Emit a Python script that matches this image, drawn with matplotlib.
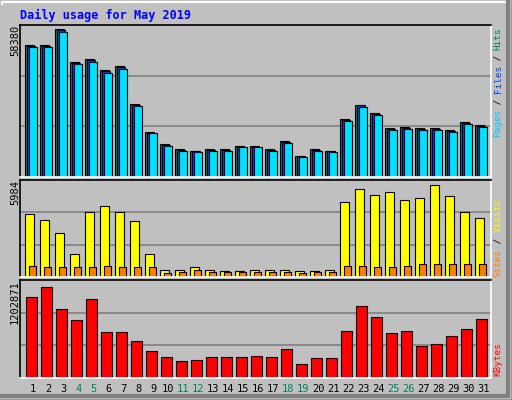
import matplotlib
matplotlib.use("Agg")
import matplotlib.pyplot as plt
from matplotlib.patches import Rectangle
from matplotlib.lines import Line2D

days = list(range(1, 32))
day_labels = [str(d) for d in days]
weekend = [4, 5, 11, 12, 18, 19, 25, 26]

hits = [52180, 52180, 58380, 45460, 46530, 42180, 43760, 28740, 17790, 12930,
        10950, 10280, 10950, 10950, 12250, 12250, 10950, 14230, 8300, 10950,
        10280, 22930, 28460, 25300, 19370, 19770, 19370, 19370, 18580, 21740, 20560]
files = [51900, 51900, 58100, 45200, 46250, 41900, 43500, 28500, 17500, 12700,
         10750, 10100, 10750, 10750, 12050, 12050, 10750, 14000, 8150, 10750,
         10100, 22700, 28460, 25050, 19150, 19550, 19150, 19150, 18350, 21500, 20350]
pages = [51260, 51260, 57500, 44500, 45600, 41300, 42800, 28000, 17260, 12400,
         10450, 9800, 10450, 10450, 11700, 11700, 10450, 13600, 7850, 10450,
         9800, 22200, 27670, 24500, 18700, 19100, 18700, 18700, 17950, 21100, 19900]
visits = [4100, 3710, 2860, 1500, 4230, 4620, 4230, 3640, 1500, 455,
          455, 650, 455, 390, 390, 455, 455, 455, 390, 390,
          455, 4880, 5720, 5330, 5530, 5010, 5140, 5984, 5270, 4230, 3840]
sites = [715, 650, 650, 650, 650, 715, 650, 650, 650, 260,
         325, 455, 325, 325, 325, 325, 325, 325, 260, 325,
         325, 715, 715, 650, 650, 715, 845, 845, 845, 845, 845]
kbytes = [1070700, 1202871, 912000, 766600, 1044200, 608000, 608000, 489100, 356900, 277600,
          224700, 237900, 277600, 277600, 277600, 290800, 277600, 383300, 185100, 264400,
          264400, 621200, 951700, 806300, 594800, 621200, 423000, 449400, 555200, 647700, 779900]

W, H = 512, 400
fig = plt.figure(figsize=(W / 100, H / 100), dpi=100, facecolor="#C0C0C0")
MONO = "DejaVu Sans Mono"

def px_axes(x0, y0, x1, y1):
    return fig.add_axes([x0 / W, 1 - y1 / H, (x1 - x0) / W, (y1 - y0) / H])

# outer 3D frame
fig.add_artist(Line2D([2 / W, 2 / W, (W - 4) / W], [(H - 4) / H, 1 - 2 / H, 1 - 2 / H],
                      transform=fig.transFigure, color="white", lw=1.5))
fig.add_artist(Line2D([(W - 4) / W, (W - 4) / W, 2 / W], [1 - 2 / H, 4 / H, 4 / H],
                      transform=fig.transFigure, color="#808080", lw=3))
fig.add_artist(Line2D([0, 1, 1], [0.5 / H, 0.5 / H, 1], transform=fig.transFigure,
                      color="black", lw=1))

XL, XR = 20, 491
xmin, xmax = 1 - 13.3 / 15, 1 + (XR - 33.3) / 15

def style(ax, ytop):
    ax.set_facecolor("#C0C0C0")
    ax.set_xlim(xmin, xmax)
    ax.set_ylim(0, ytop)
    ax.set_yticks([ytop / 3, 2 * ytop / 3])
    ax.yaxis.grid(True, color="#808080", lw=1.2)
    ax.set_axisbelow(True)
    ax.tick_params(left=False, bottom=False, labelleft=False, labelbottom=False)
    for s in ax.spines.values():
        s.set_color("black")
        s.set_linewidth(1.2)
    ax.spines["right"].set_color("white")
    ax.spines["bottom"].set_color("white")

ax1 = px_axes(XL, 25, XR, 177)
style(ax1, 152 * 58380 / 147.7)
ax1.bar([d - 0.55 for d in days], hits, width=0.58, align="edge", color="#00805C", edgecolor="black", lw=0.8)
ax1.bar([d - 0.42 for d in days], files, width=0.55, align="edge", color="#0040FF", edgecolor="black", lw=0.8)
ax1.bar([d - 0.29 for d in days], pages, width=0.52, align="edge", color="#00E0FF", edgecolor="black", lw=0.8)

ax2 = px_axes(XL, 180, XR, 277)
style(ax2, 97 * 5984 / 92)
ax2.bar([d - 0.53 for d in days], visits, width=0.56, align="edge", color="#FFFF00", edgecolor="black", lw=0.8)
ax2.bar([d - 0.27 for d in days], sites, width=0.47, align="edge", color="#FF8000", edgecolor="black", lw=0.8)

ax3 = px_axes(XL, 280, XR, 378)
style(ax3, 98 * 1202871 / 91)
ax3.bar([d - 0.47 for d in days], kbytes, width=0.7, align="edge", color="#FF0000", edgecolor="black", lw=0.8)

# x labels
for d, lab in zip(days, day_labels):
    xp = 33.3 + 15 * (d - 1)
    fig.text(xp / W, 1 - 389 / H, lab, ha="center", va="center", family=MONO, fontsize=7.5,
             color="#00805C" if d in weekend else "black")

fig.text(20 / W, 1 - 15 / H, "Daily usage for May 2019", ha="left", va="center",
         family=MONO, fontsize=8.5, fontweight="bold", color="#0000FF")

for txt, ytop in [("58380", 25), ("5984", 180), ("1202871", 280)]:
    fig.text(15 / W, 1 - ytop / H, txt, rotation=90, ha="center", va="top",
             family=MONO, fontsize=7.5, color="black")

def right_label(parts, ybottom, pitch=5.6):
    y = ybottom
    for txt, col in parts:
        fig.text(498 / W, 1 - y / H, txt, rotation=90, ha="center", va="bottom",
                 family=MONO, fontsize=6.7, color=col)
        y -= pitch * len(txt)

right_label([("Pages", "#00C8FF"), (" / ", "black"), ("Files", "#0040FF"),
             (" / ", "black"), ("Hits", "#00805C")], 137, pitch=5.45)
right_label([("Sites", "#FF8000"), (" / ", "black"), ("Visits", "#FFFF00")], 277)
right_label([("KBytes", "#FF0000")], 376, pitch=5.8)

fig.savefig("out.png", dpi=100, facecolor=fig.get_facecolor())
